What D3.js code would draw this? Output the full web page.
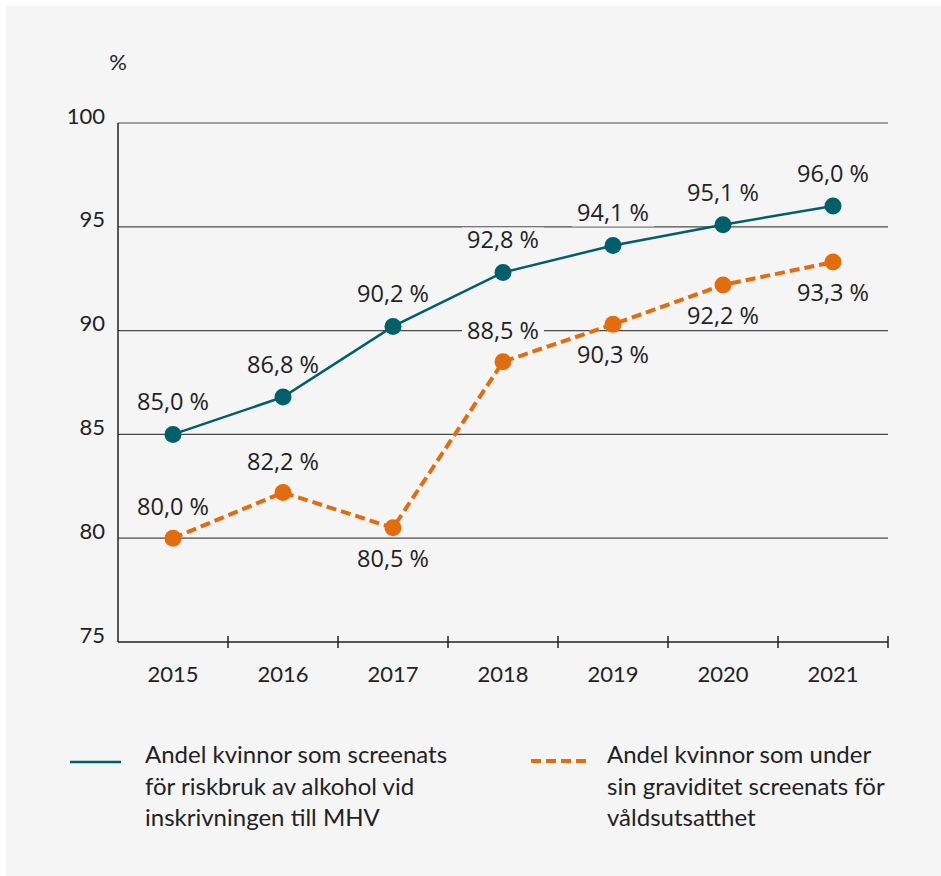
<!DOCTYPE html>
<html><head><meta charset="utf-8">
<script src="https://cdn.jsdelivr.net/npm/d3@7"></script>
<style>
html,body{margin:0;padding:0;background:#fff;}
svg{display:block;}
text{font-family:Lato,"Noto Sans",sans-serif;fill:#222;}
text.val{font-family:"Open Sans","Noto Sans",sans-serif;}
</style></head>
<body>
<script>
const years = ["2015","2016","2017","2018","2019","2020","2021"];
const alcohol = [85.0, 86.8, 90.2, 92.8, 94.1, 95.1, 96.0];
const violence = [80.0, 82.2, 80.5, 88.5, 90.3, 92.2, 93.3];
const violenceLabelBelow = [false, false, true, false, true, true, true];
const yTicks = [75, 80, 85, 90, 95, 100];
const legendAlcohol = ["Andel kvinnor som screenats", "för riskbruk av alkohol vid", "inskrivningen till MHV"];
const legendViolence = ["Andel kvinnor som under", "sin graviditet screenats för", "våldsutsatthet"];
const teal = "#005f6b", orange = "#e36c0f", bg = "#f5f5f5";
const fmt = v => v.toFixed(1).replace(".", ",") + " %";

(function(){
const W = 941, H = 876;
const svg = d3.select("body").append("svg").attr("width", W).attr("height", H);
svg.append("rect").attr("x", 6).attr("y", 6).attr("width", W - 6).attr("height", H - 6).attr("fill", bg);

const pl = 118, pr = 888, pt = 123, pb = 642;
const x = d3.scaleBand().domain(years).range([pl, pr]);
const y = d3.scaleLinear().domain([75, 100]).range([pb, pt]);

svg.append("g").selectAll("line").data(yTicks.filter(t => t > 75)).join("line")
  .attr("x1", pl).attr("x2", pr).attr("y1", d => y(d)).attr("y2", d => y(d))
  .attr("stroke", "#4a4a4a").attr("stroke-width", 1.2);
svg.append("g").selectAll("text").data(yTicks).join("text")
  .attr("x", 105).attr("y", d => y(d) + 0.5).attr("text-anchor", "end")
  .attr("font-size", 22).text(d => d);
svg.append("text").attr("x", 118).attr("y", 70).attr("text-anchor", "middle").attr("font-size", 22).text("%");
svg.append("line").attr("x1", pl).attr("x2", pl).attr("y1", pt).attr("y2", pb).attr("stroke", "#222").attr("stroke-width", 1.5);
const xb = svg.append("g");
xb.append("line").attr("x1", pl).attr("x2", pr).attr("y1", pb).attr("y2", pb).attr("stroke", "#222").attr("stroke-width", 1.5);
xb.selectAll("line.tk").data(years).join("line").attr("class", "tk")
  .attr("x1", d => x(d) + x.bandwidth()).attr("x2", d => x(d) + x.bandwidth())
  .attr("y1", pb - 6).attr("y2", pb + 6).attr("stroke", "#222").attr("stroke-width", 1.5);
xb.selectAll("text").data(years).join("text")
  .attr("x", d => x(d) + x.bandwidth() / 2).attr("y", 682).attr("text-anchor", "middle")
  .attr("font-size", 22).text(d => d);

const cx = (d, i) => x(years[i]) + x.bandwidth() / 2;
const line = d3.line().x((d, i) => cx(d, i)).y(d => y(d));

function labels(data, yPos) {
  const g = svg.append("g");
  const t = g.selectAll("text").data(data).join("text").attr("class", "val")
    .attr("x", cx).attr("y", yPos).attr("text-anchor", "middle").attr("font-size", 23.5).text(fmt);
  t.each(function() {
    const b = this.getBBox();
    g.insert("rect", "text").attr("x", b.x - 5).attr("y", b.y + 4).attr("width", b.width + 10)
      .attr("height", b.height - 6).attr("fill", bg);
  });
}
labels(alcohol, d => y(d) - 24);
labels(violence, (d, i) => violenceLabelBelow[i] ? y(d) + 39 : y(d) - 23);

svg.append("path").datum(violence).attr("d", line).attr("fill", "none").attr("stroke", orange)
  .attr("stroke-width", 4).attr("stroke-dasharray", "10,5");
svg.append("path").datum(alcohol).attr("d", line).attr("fill", "none").attr("stroke", teal).attr("stroke-width", 2.5);

svg.append("g").selectAll("circle").data(violence).join("circle")
  .attr("cx", cx).attr("cy", d => y(d)).attr("r", 8.5).attr("fill", orange);
svg.append("g").selectAll("circle").data(alcohol).join("circle")
  .attr("cx", cx).attr("cy", d => y(d)).attr("r", 8.5).attr("fill", teal);

const lg = svg.append("g");
lg.append("line").attr("x1", 70).attr("x2", 121).attr("y1", 762).attr("y2", 762).attr("stroke", teal).attr("stroke-width", 2.5);
lg.append("line").attr("x1", 531).attr("x2", 586).attr("y1", 761).attr("y2", 761).attr("stroke", orange).attr("stroke-width", 4).attr("stroke-dasharray", "10,5");
lg.selectAll("text.a").data(legendAlcohol).join("text").attr("class", "a")
  .attr("x", 145).attr("y", (d, i) => 763 + i * 31.5).attr("font-size", 24).text(d => d);
lg.selectAll("text.b").data(legendViolence).join("text").attr("class", "b")
  .attr("x", 607).attr("y", (d, i) => 763 + i * 31.5).attr("font-size", 24).text(d => d);
})();
</script>
</body></html>
